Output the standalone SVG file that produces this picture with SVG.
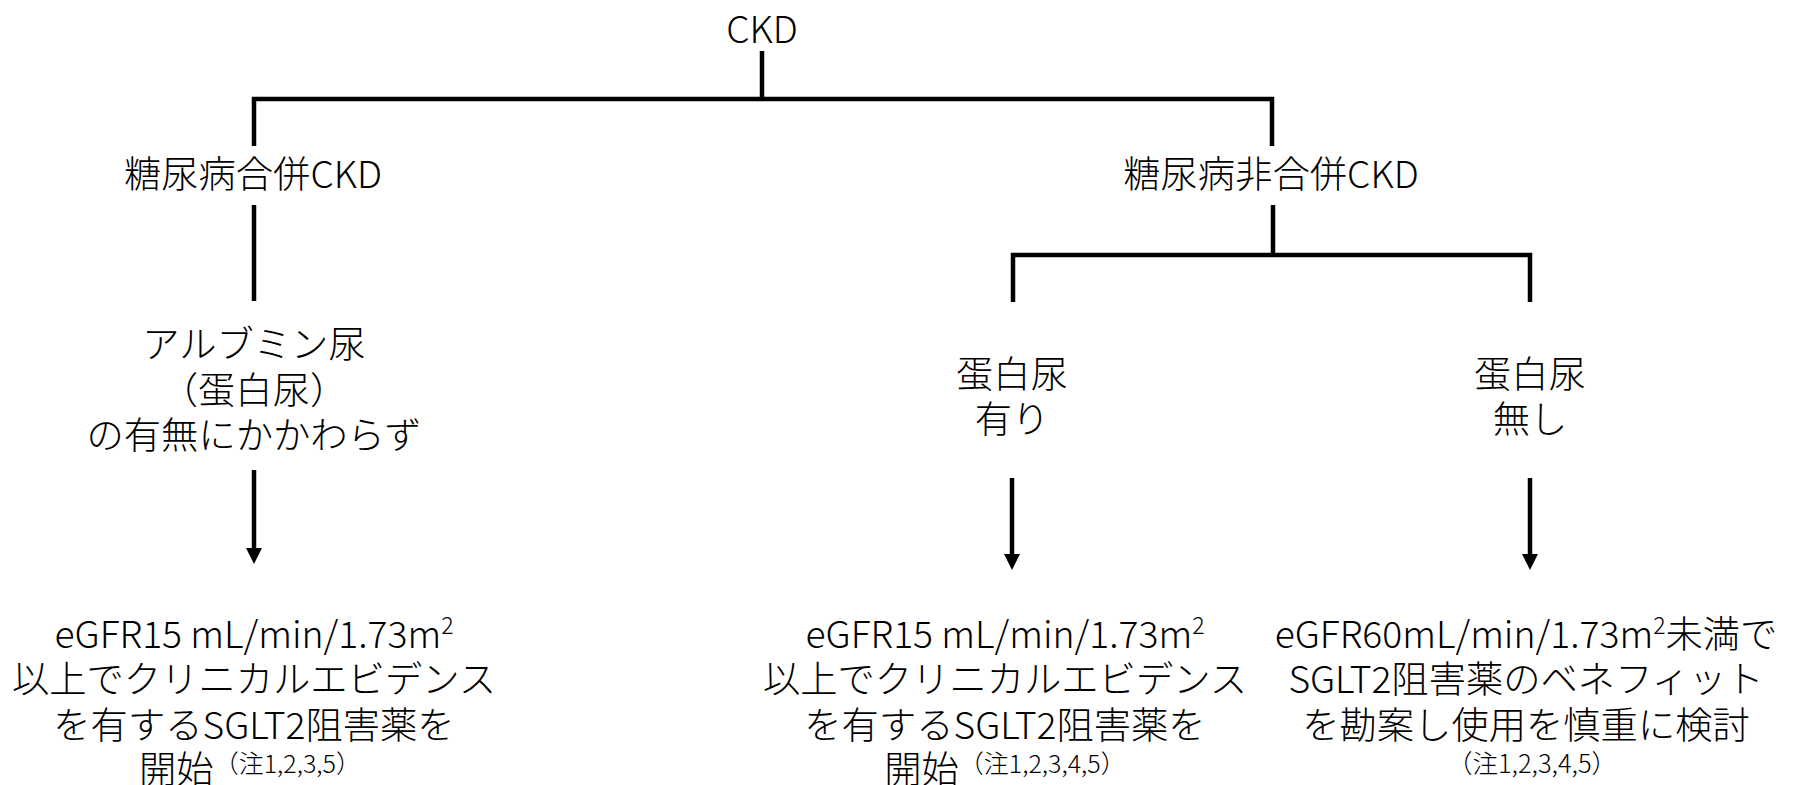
<svg xmlns="http://www.w3.org/2000/svg" width="1798" height="785" viewBox="0 0 1798 785">
<style>
.t{font-family:"Noto Sans CJK JP","Noto Sans",sans-serif;font-size:37.3px;font-weight:300;fill:#000;text-anchor:middle}
.sup{font-size:23px;baseline-shift:14px}
.note{font-size:25px;baseline-shift:10px}
.note2{font-family:"Noto Sans CJK JP","Noto Sans",sans-serif;font-size:25.5px;font-weight:300;fill:#000;text-anchor:middle}
.ln{fill:none;stroke:#000;stroke-width:4.5;stroke-linejoin:miter;stroke-linecap:butt}
.ar{fill:none;stroke:#000;stroke-width:4.5;marker-end:url(#ah)}
</style>
<defs>
<marker id="ah" markerUnits="userSpaceOnUse" viewBox="0 0 16 16" markerWidth="16" markerHeight="16" refX="8" refY="8" orient="auto">
<path d="M0,0 L16,8 L0,16 z" fill="#000"/>
</marker>
</defs>
<rect width="1798" height="785" fill="#fff"/>
<g id="connectors">
<line class="ln" x1="762" y1="51" x2="762" y2="99"/>
<path class="ln" d="M254,146 V99 H1272 V146"/>
<line class="ln" x1="254" y1="205" x2="254" y2="301"/>
<line class="ln" x1="1273" y1="205" x2="1273" y2="255"/>
<path class="ln" d="M1013,302 V255 H1530 V302"/>
<line class="ar" x1="254" y1="470" x2="254" y2="556"/>
<line class="ar" x1="1012" y1="478" x2="1012" y2="562"/>
<line class="ar" x1="1530" y1="478" x2="1530" y2="562"/>
</g>
<g id="n-ckd"><text class="t" x="762" y="43">CKD</text></g>
<g id="n-dm"><text class="t" x="253" y="188">糖尿病合併CKD</text></g>
<g id="n-nondm"><text class="t" x="1271" y="188">糖尿病非合併CKD</text></g>
<g id="n-alb">
<text class="t" x="254" y="358">アルブミン尿</text>
<text class="t" x="254" y="404">（蛋白尿）</text>
<text class="t" x="254" y="449">の有無にかかわらず</text>
</g>
<g id="n-prot-yes">
<text class="t" x="1012" y="388">蛋白尿</text>
<text class="t" x="1012" y="433">有り</text>
</g>
<g id="n-prot-no">
<text class="t" x="1530" y="388">蛋白尿</text>
<text class="t" x="1530" y="433">無し</text>
</g>
<g id="n-res-left">
<text class="t" x="254" y="648">eGFR15 mL/min/1.73m<tspan class="sup">2</tspan></text>
<text class="t" x="254" y="693">以上でクリニカルエビデンス</text>
<text class="t" x="254" y="739">を有するSGLT2阻害薬を</text>
<text class="t" x="250" y="783">開始<tspan class="note">（注1,2,3,5）</tspan></text>
</g>
<g id="n-res-mid">
<text class="t" x="1005" y="648">eGFR15 mL/min/1.73m<tspan class="sup">2</tspan></text>
<text class="t" x="1005" y="693">以上でクリニカルエビデンス</text>
<text class="t" x="1005" y="739">を有するSGLT2阻害薬を</text>
<text class="t" x="1005" y="783">開始<tspan class="note">（注1,2,3,4,5）</tspan></text>
</g>
<g id="n-res-right">
<text class="t" x="1526" y="648">eGFR60mL/min/1.73m<tspan class="sup">2</tspan>未満で</text>
<text class="t" x="1526" y="693">SGLT2阻害薬のベネフィット</text>
<text class="t" x="1526" y="739">を勘案し使用を慎重に検討</text>
<text class="note2" x="1532" y="773">（注1,2,3,4,5）</text>
</g>
</svg>
